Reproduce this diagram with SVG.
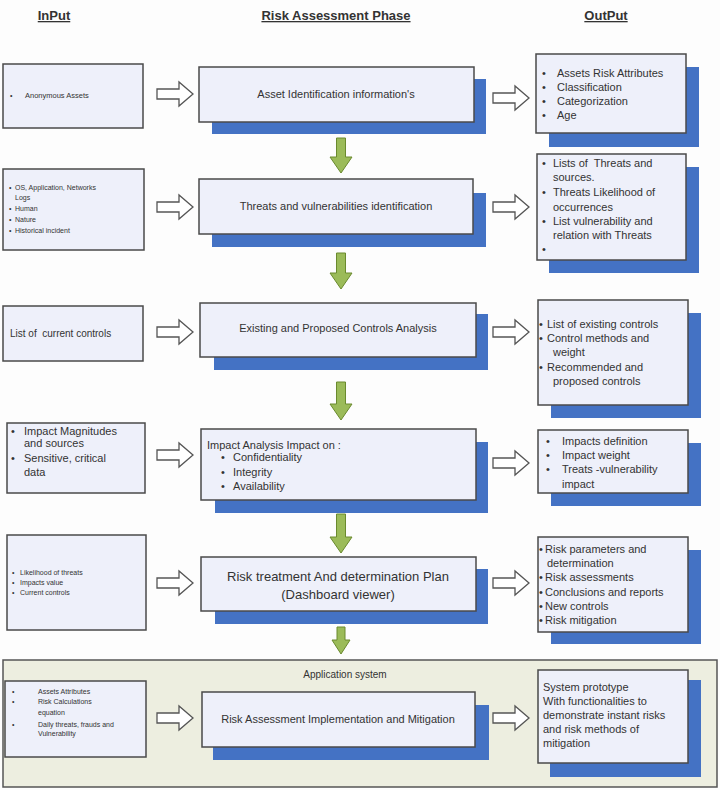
<svg xmlns="http://www.w3.org/2000/svg" width="720" height="790" viewBox="0 0 720 790">
<style>
text{font-family:"Liberation Sans",Arial,sans-serif;fill:#333;}
.hd{font-size:13px;font-weight:bold;text-decoration:underline;fill:#333;}
.box{fill:#EEF0FA;stroke:#4a4a4a;stroke-width:1.5;}
.sh{fill:#4472C4;}
.t7{font-size:7px;}
.t10{font-size:10px;}
.t11{font-size:11px;}
.t13{font-size:13px;}
.c{text-anchor:middle;}
.ha{fill:#fff;stroke:#555;stroke-width:1.3;}
.ga{fill:#9BBB59;stroke:#6A8A2E;stroke-width:1;}
</style>
<defs>
<path id="harrow" d="M0,-5 H22 V-12 L36,0 L22,12 V5 H0 Z"/>
</defs>
<rect width="720" height="790" fill="#FDFDFD"/>
<g id="headers">
<text class="hd c" x="54" y="20">InPut</text>
<text class="hd c" x="336" y="20">Risk Assessment Phase</text>
<text class="hd c" x="606" y="20">OutPut</text>
</g>
<g id="app-system">
<rect x="3" y="660" width="714" height="127" fill="#EDEEE0" stroke="#555" stroke-width="1.5"/>
<text class="t10 c" x="345" y="678">Application system</text>
</g>
<g id="connectors">
<use href="#harrow" class="ha" transform="translate(157,94)"/>
<use href="#harrow" class="ha" transform="translate(157,207)"/>
<use href="#harrow" class="ha" transform="translate(157,332)"/>
<use href="#harrow" class="ha" transform="translate(157,455)"/>
<use href="#harrow" class="ha" transform="translate(157,583)"/>
<use href="#harrow" class="ha" transform="translate(157,718)"/>
<use href="#harrow" class="ha" transform="translate(493,98)"/>
<use href="#harrow" class="ha" transform="translate(493,207)"/>
<use href="#harrow" class="ha" transform="translate(493,332)"/>
<use href="#harrow" class="ha" transform="translate(493,463)"/>
<use href="#harrow" class="ha" transform="translate(493,583)"/>
<use href="#harrow" class="ha" transform="translate(493,718)"/>
<path class="ga" d="M336.5,138 H345.5 V157 H352 L341,173 L330,157 H336.5 Z"/>
<path class="ga" d="M336.5,253 H345.5 V273 H352 L341,289 L330,273 H336.5 Z"/>
<path class="ga" d="M336.5,382 H345.5 V404 H352 L341,420 L330,404 H336.5 Z"/>
<path class="ga" d="M336.5,514 H345.5 V537 H352 L341,553 L330,537 H336.5 Z"/>
<path class="ga" d="M337,627 H345 V640 H350 L341,654 L332,640 H337 Z"/>
</g>
<g id="in1">
<rect class="box" x="3" y="64" width="140" height="64"/>
<text class="t7" x="10" y="98">•</text><text class="t7" x="25" y="98" style="font-size:7.5px">Anonymous Assets</text>
</g>
<g id="phase1">
<rect class="sh" x="212" y="79" width="274" height="55"/>
<rect class="box" x="199" y="67" width="275" height="55"/>
<text class="t11 c" x="336" y="98">Asset Identification information's</text>
</g>
<g id="out1">
<rect class="sh" x="549" y="67" width="150" height="80"/>
<rect class="box" x="536" y="54" width="150" height="79"/>
<g class="t11">
<text x="542" y="77">•</text><text x="557" y="77">Assets Risk Attributes</text>
<text x="542" y="91">•</text><text x="557" y="91">Classification</text>
<text x="542" y="105">•</text><text x="557" y="105">Categorization</text>
<text x="542" y="119">•</text><text x="557" y="119">Age</text>
</g>
</g>
<g id="in2">
<rect class="box" x="3" y="169" width="141" height="81"/>
<g class="t7">
<text x="9" y="190">•</text><text x="15" y="190">OS, Application, Networks</text>
<text x="15" y="200">Logs</text>
<text x="9" y="211">•</text><text x="15" y="211">Human</text>
<text x="9" y="222">•</text><text x="15" y="222">Nature</text>
<text x="9" y="233">•</text><text x="15" y="233">Historical incident</text>
</g>
</g>
<g id="phase2">
<rect class="sh" x="212" y="193" width="274" height="54"/>
<rect class="box" x="199" y="179" width="274" height="55"/>
<text class="t11 c" x="336" y="210">Threats and vulnerabilities identification</text>
</g>
<g id="out2">
<rect class="sh" x="549" y="167" width="150" height="106"/>
<rect class="box" x="537" y="154" width="149" height="106"/>
<g class="t11">
<text x="542" y="167">•</text><text x="553" y="167" xml:space="preserve">Lists of  Threats and</text>
<text x="553" y="181">sources.</text>
<text x="542" y="196">•</text><text x="553" y="196">Threats Likelihood of</text>
<text x="553" y="211">occurrences</text>
<text x="542" y="225">•</text><text x="553" y="225">List vulnerability and</text>
<text x="553" y="239">relation with Threats</text>
<text x="542" y="253">•</text>
</g>
</g>
<g id="in3">
<rect class="box" x="3" y="306" width="140" height="55"/>
<text class="t10" x="10" y="337" xml:space="preserve">List of  current controls</text>
</g>
<g id="phase3">
<rect class="sh" x="214" y="314" width="274" height="56"/>
<rect class="box" x="200" y="303" width="276" height="54"/>
<text class="t11 c" x="338" y="332">Existing and Proposed Controls Analysis</text>
</g>
<g id="out3">
<rect class="sh" x="551" y="313" width="150" height="105"/>
<rect class="box" x="538" y="300" width="150" height="105"/>
<g class="t11">
<text x="539" y="328">•</text><text x="547" y="328">List of existing controls</text>
<text x="539" y="342">•</text><text x="547" y="342">Control methods and</text>
<text x="553" y="356">weight</text>
<text x="539" y="371">•</text><text x="547" y="371">Recommended and</text>
<text x="553" y="385">proposed controls</text>
</g>
</g>
<g id="in4">
<rect class="box" x="7" y="423" width="138" height="70"/>
<g class="t11">
<text x="11" y="435">•</text><text x="24" y="435">Impact Magnitudes</text>
<text x="24" y="447">and sources</text>
<text x="11" y="462">•</text><text x="24" y="462">Sensitive, critical</text>
<text x="24" y="476">data</text>
</g>
</g>
<g id="phase4">
<rect class="sh" x="215" y="442" width="273" height="71"/>
<rect class="box" x="201" y="429" width="275" height="71"/>
<g class="t11">
<text x="207" y="449">Impact Analysis Impact on :</text>
<text x="221" y="461">•</text><text x="233" y="461">Confidentiality</text>
<text x="221" y="476">•</text><text x="233" y="476">Integrity</text>
<text x="221" y="490">•</text><text x="233" y="490">Availability</text>
</g>
</g>
<g id="out4">
<rect class="sh" x="551" y="443" width="150" height="63"/>
<rect class="box" x="538" y="430" width="150" height="63"/>
<g class="t11">
<text x="546" y="445">•</text><text x="562" y="445">Impacts definition</text>
<text x="546" y="459">•</text><text x="562" y="459">Impact weight</text>
<text x="546" y="473">•</text><text x="562" y="473">Treats -vulnerability</text>
<text x="562" y="488">impact</text>
</g>
</g>
<g id="in5">
<rect class="box" x="7" y="535" width="139" height="95"/>
<g class="t7">
<text x="12" y="575">•</text><text x="20" y="575">Likelihood of threats</text>
<text x="12" y="585">•</text><text x="20" y="585">Impacts value</text>
<text x="12" y="595">•</text><text x="20" y="595">Current controls</text>
</g>
</g>
<g id="phase5">
<rect class="sh" x="215" y="569" width="273" height="55"/>
<rect class="box" x="201" y="557" width="275" height="54"/>
<text class="t13 c" x="338" y="581">Risk treatment And determination Plan</text>
<text class="t13 c" x="338" y="599">(Dashboard viewer)</text>
</g>
<g id="out5">
<rect class="sh" x="551" y="550" width="150" height="94"/>
<rect class="box" x="538" y="537" width="150" height="95"/>
<g class="t11">
<text x="539" y="553">•</text><text x="545" y="553">Risk parameters and</text>
<text x="547" y="567">determination</text>
<text x="539" y="581">•</text><text x="545" y="581">Risk assessments</text>
<text x="539" y="596">•</text><text x="545" y="596">Conclusions and reports</text>
<text x="539" y="610">•</text><text x="545" y="610">New controls</text>
<text x="539" y="624">•</text><text x="545" y="624">Risk mitigation</text>
</g>
</g>
<g id="in6">
<rect class="box" x="5" y="681" width="141" height="76"/>
<g class="t7">
<text x="12" y="694">•</text><text x="38" y="694">Assets Attributes</text>
<text x="12" y="704">•</text><text x="38" y="704">Risk Calculations</text>
<text x="38" y="715">equation</text>
<text x="12" y="727">•</text><text x="38" y="727">Daily threats, frauds and</text>
<text x="38" y="736">Vulnerability</text>
</g>
</g>
<g id="phase6">
<rect class="sh" x="213" y="705" width="276" height="55"/>
<rect class="box" x="202" y="692" width="273" height="55"/>
<text class="t11 c" x="338" y="723">Risk Assessment Implementation and Mitigation</text>
</g>
<g id="out6">
<rect class="sh" x="550" y="680" width="151" height="97"/>
<rect class="box" x="538" y="670" width="150" height="93"/>
<g class="t11">
<text x="543" y="691">System prototype</text>
<text x="543" y="705">With functionalities to</text>
<text x="543" y="719">demonstrate instant risks</text>
<text x="543" y="733">and risk methods of</text>
<text x="543" y="747">mitigation</text>
</g>
</g>
</svg>
